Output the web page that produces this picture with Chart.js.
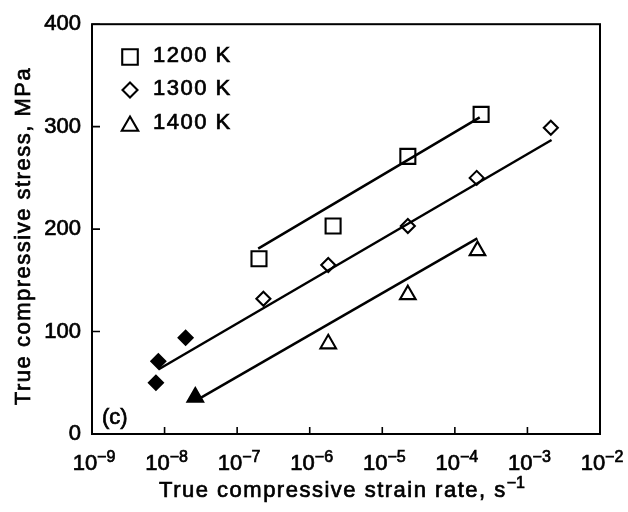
<!DOCTYPE html>
<html>
<head>
<meta charset="utf-8">
<script src="https://cdn.jsdelivr.net/npm/chart.js@4.4.1/dist/chart.umd.min.js"></script>
<style>
  html, body { margin: 0; padding: 0; background: #fff; }
  #chart { display: block; }
</style>
</head>
<body>
<canvas id="chart" width="628" height="512"></canvas>
<script>
// strain rate (s^-1) and stress (MPa)
const rate1200 = [2.0e-7, 2.1e-6, 2.25e-5, 2.3e-4];
const stress1200 = [171, 203, 271, 312];
const rate1300 = [2.3e-7, 1.8e-6, 2.25e-5, 2.0e-4, 2.1e-3];
const stress1300 = [132, 165, 203, 250, 299];
const rate1300Solid = [7.6e-9, 8.2e-9, 1.95e-8];
const stress1300Solid = [50, 71, 94];
const rate1400 = [1.8e-6, 2.25e-5, 2.05e-4];
const stress1400 = [88, 136, 179];
const rate1400Solid = [2.65e-8];
const stress1400Solid = [36];

// fitted lines (end points)
const fitRate1200 = [1.95e-7, 2.2e-4];
const fitStress1200 = [181, 309];
const fitRate1300 = [8.2e-9, 2.15e-3];
const fitStress1300 = [63, 287];
const fitRate1400 = [2.77e-8, 2.04e-4];
const fitStress1400 = [33, 191];

const xExponents = [-9, -8, -7, -6, -5, -4, -3, -2];
const yTicks = [0, 100, 200, 300, 400];
const legendLabels = ["1200 K", "1300 K", "1400 K"];

const FONT = '"Liberation Sans", Arial, Helvetica, sans-serif';
const TEXT_STROKE = 0.7;

function pts(xs, ys) {
  return xs.map((x, i) => ({ x: x, y: ys[i] }));
}

function markerSet(xs, ys, style, radius, filled) {
  return {
    data: pts(xs, ys),
    pointStyle: style,
    pointRadius: radius,
    pointBorderWidth: 2.1,
    pointBorderColor: "#000",
    pointBackgroundColor: filled ? "#000" : "rgba(0,0,0,0)",
    showLine: false,
  };
}

function fitLine(xs, ys) {
  return {
    data: pts(xs, ys),
    showLine: true,
    borderColor: "#000",
    borderWidth: 2.5,
    pointRadius: 0,
  };
}

function drawShape(ctx, style, x, y, r, filled) {
  ctx.beginPath();
  if (style === "rect") {
    const s = r * Math.SQRT1_2;
    ctx.rect(x - s, y - s, 2 * s, 2 * s);
  } else if (style === "rectRot") {
    ctx.moveTo(x, y - r);
    ctx.lineTo(x + r, y);
    ctx.lineTo(x, y + r);
    ctx.lineTo(x - r, y);
    ctx.closePath();
  } else {
    ctx.moveTo(x, y - r);
    ctx.lineTo(x + r * Math.sin(Math.PI * 2 / 3), y + r / 2);
    ctx.lineTo(x - r * Math.sin(Math.PI * 2 / 3), y + r / 2);
    ctx.closePath();
  }
  if (filled) ctx.fill();
  ctx.stroke();
}

// fill + thin stroke, the scan has heavy type
function text(ctx, str, x, y) {
  ctx.fillText(str, x, y);
  ctx.lineWidth = TEXT_STROKE;
  ctx.strokeText(str, x, y);
}

const decorations = {
  id: "decorations",
  afterDraw(chart) {
    const ctx = chart.ctx;
    const area = chart.chartArea;
    const xs = chart.scales.x;
    const ys = chart.scales.y;
    ctx.save();
    ctx.strokeStyle = "#000";
    ctx.fillStyle = "#000";

    // frame
    ctx.lineWidth = 2;
    ctx.strokeRect(area.left, area.top, area.right - area.left, area.bottom - area.top);

    // inward tick marks
    ctx.lineWidth = 1.6;
    ctx.beginPath();
    xExponents.forEach((e) => {
      const px = xs.getPixelForValue(Math.pow(10, e));
      ctx.moveTo(px, area.bottom);
      ctx.lineTo(px, area.bottom - 7);
    });
    yTicks.forEach((v) => {
      const py = ys.getPixelForValue(v);
      ctx.moveTo(area.left, py);
      ctx.lineTo(area.left + 8, py);
    });
    ctx.stroke();

    // x tick labels 10^n
    ctx.textBaseline = "alphabetic";
    ctx.textAlign = "left";
    xExponents.forEach((e) => {
      const px = xs.getPixelForValue(Math.pow(10, e));
      ctx.font = "22px " + FONT;
      const base = "10";
      const wb = ctx.measureText(base).width;
      ctx.font = "16px " + FONT;
      const sup = "\u2212" + Math.abs(e);
      const ws = ctx.measureText(sup).width;
      const x0 = px - (wb + ws) / 2 + 2;
      ctx.font = "22px " + FONT;
      text(ctx, base, x0, 470);
      ctx.font = "16px " + FONT;
      text(ctx, sup, x0 + wb, 462);
    });

    // axis titles
    ctx.font = "22px " + FONT;
    ctx.letterSpacing = "1.5px";
    const xTitle = "True compressive strain rate, s";
    const wt = ctx.measureText(xTitle).width;
    ctx.font = "16px " + FONT;
    ctx.letterSpacing = "0px";
    const xSup = "\u22121";
    const wsup = ctx.measureText(xSup).width;
    const tx = 342 - (wt + wsup) / 2;
    ctx.font = "22px " + FONT;
    ctx.letterSpacing = "1.5px";
    text(ctx, xTitle, tx, 497);
    ctx.font = "16px " + FONT;
    ctx.letterSpacing = "0px";
    text(ctx, xSup, tx + wt, 488);

    ctx.save();
    ctx.translate(30, 236);
    ctx.rotate(-Math.PI / 2);
    ctx.font = "22px " + FONT;
    ctx.letterSpacing = "1.5px";
    ctx.textAlign = "center";
    text(ctx, "True compressive stress, MPa", 0, 0);
    ctx.restore();

    // legend
    const legendStyles = ["rect", "rectRot", "triangle"];
    const legendRadius = [11, 7.5, 9.5];
    const legendY = [57, 90, 126];
    const legendBase = [62, 95, 129];
    legendLabels.forEach((label, i) => {
      ctx.lineWidth = 2.1;
      drawShape(ctx, legendStyles[i], 130, legendY[i], legendRadius[i], false);
      ctx.font = "22px " + FONT;
      ctx.letterSpacing = "1.5px";
      ctx.textAlign = "left";
      text(ctx, label, 153, legendBase[i]);
    });

    // panel label
    ctx.letterSpacing = "0px";
    ctx.font = "22px " + FONT;
    text(ctx, "(c)", 102, 424);
    ctx.restore();
  },
};

new Chart(document.getElementById("chart").getContext("2d"), {
  type: "scatter",
  data: {
    datasets: [
      fitLine(fitRate1200, fitStress1200),
      fitLine(fitRate1300, fitStress1300),
      fitLine(fitRate1400, fitStress1400),
      markerSet(rate1200, stress1200, "rect", 10.6, false),
      markerSet(rate1300, stress1300, "rectRot", 7, false),
      markerSet(rate1300Solid, stress1300Solid, "rectRot", 7, true),
      markerSet(rate1400, stress1400, "triangle", 9, false),
      markerSet(rate1400Solid, stress1400Solid, "triangle", 9, true),
    ],
  },
  options: {
    responsive: false,
    animation: false,
    layout: { padding: { top: 15, right: 28, left: 0, bottom: 0 } },
    plugins: {
      legend: { display: false },
      tooltip: { enabled: false },
    },
    scales: {
      x: {
        type: "logarithmic",
        min: 1e-9,
        max: 1e-2,
        ticks: { display: false },
        grid: { display: false, drawTicks: false },
        border: { display: false },
        afterFit(scale) {
          scale.height = 78;
        },
      },
      y: {
        min: 0,
        max: 400,
        ticks: {
          stepSize: 100,
          color: "#000",
          padding: 11,
          textStrokeColor: "#000",
          textStrokeWidth: TEXT_STROKE,
          font: { family: FONT, size: 22 },
        },
        grid: { display: false, drawTicks: false },
        border: { display: false },
        afterFit(scale) {
          scale.width = 92;
        },
      },
    },
  },
  plugins: [decorations],
});
</script>
</body>
</html>
